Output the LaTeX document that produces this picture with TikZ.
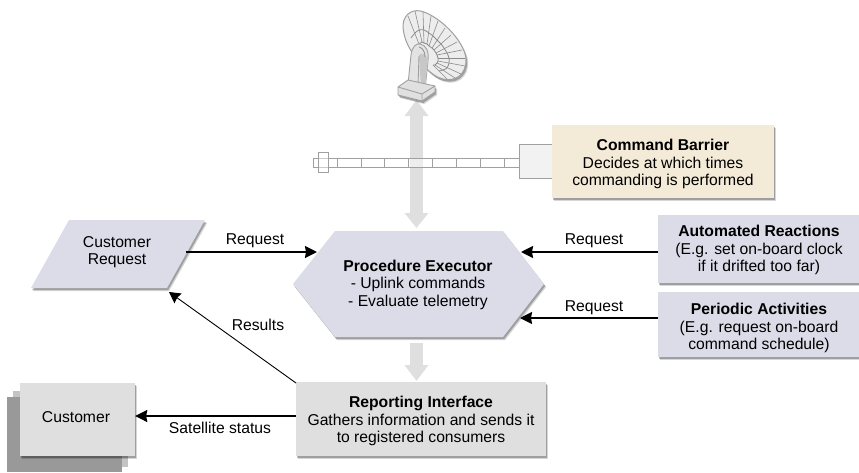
\documentclass[tikz,border=0pt]{standalone}
\usepackage{fontspec}
\setmainfont{Liberation Sans}
\usetikzlibrary{arrows.meta,shadows,calc}
\definecolor{lilac}{HTML}{DBDCE8}
\definecolor{cream}{HTML}{F3EAD8}
\definecolor{pale}{HTML}{DFDFDF}
\definecolor{stack}{HTML}{999999}
\definecolor{stacklight}{HTML}{C4C4C4}
\definecolor{flow}{HTML}{DFDFDF}
\definecolor{wire}{HTML}{A0A0A0}
\definecolor{rib}{HTML}{8C8C8C}
\tikzset{
  x=1pt,y=-1pt,
  softshadow/.style={
    drop shadow={shadow xshift=2.2pt,shadow yshift=-3pt,opacity=.16,fill=black},
    drop shadow={shadow xshift=1.2pt,shadow yshift=-2pt,opacity=.26,fill=black}},
  panel/.style={fill=#1,softshadow,inner sep=0pt},
  txt/.style={inner sep=0pt,align=center,font=\fontsize{15.7}{17.5}\selectfont},
  link/.style={-{Stealth[length=12pt,width=12pt,inset=1pt]},line width=1.8pt,black},
  thinlink/.style={-{Stealth[length=11pt,width=12pt,inset=1pt]},line width=.9pt,black},
  flowarrow/.style={line width=13pt,flow},
  flowhead/.style={-{Triangle[length=16pt,width=23pt]}},
  flowboth/.style={{Triangle[length=15pt,width=23pt]}-{Triangle[length=16pt,width=23pt]}},
  hw/.style={draw=wire,line width=.9pt},
  ribline/.style={draw=rib,line width=.6pt},
}
\begin{document}
\begin{tikzpicture}
\useasboundingbox (0,0) rectangle (859,472);

% Attachment points on the central column
\coordinate (dishFoot) at (416.5,100);
\coordinate (execN) at (416.5,228);
\coordinate (execS) at (416.5,343);
\coordinate (reportN) at (416.5,381);

% Wide grey flow arrows through the centre
\draw[flowarrow,flowboth] (execN) -- (dishFoot);
\draw[flowarrow,flowhead] (execS) -- (reportN);

% Ground station dish: bowl, ribs, rings
\path[fill=black!7,softshadow] (403,25) .. controls (404,13) and (414,8) .. (424,12)
   .. controls (445,20) and (466,45) .. (466,60)
   .. controls (466,75) and (455,82) .. (443,79)
   .. controls (430,76) and (421,62) .. (412,52)
   .. controls (407,45) and (403,35) .. (403,25) -- cycle;
\foreach \ix/\iy/\ox/\oy in {419/44/408/16,422/42/415/11,424/43/423/12,427/44/431/16,
    429/46/438/21,432/48/445/28,434/50/451/35,436/53/457/42,437/55/462/50,
    438/58/465/58,438/61/465/66,437/63/461/74,435/65/455/78,433/65/448/80}
  \draw[ribline] (\ix,\iy) -- (\ox,\oy);
\draw[ribline,line width=.8pt] plot[smooth] coordinates {(411,38) (415,33) (419,30) (424,30) (429,33)
    (433,36) (437,40) (441,44) (444,48) (447,53) (449,58) (449,63) (447,68) (443,70) (439,71)};
\draw[ribline,line width=.8pt] plot[smooth] coordinates {(415,47) (419,44) (422,42) (424,43) (427,44)
    (429,46) (432,48) (434,50) (436,53) (437,55) (438,58) (438,61) (437,63) (435,65) (433,65)};
\draw[draw=wire,line width=1pt] (403,25) .. controls (404,13) and (414,8) .. (424,12)
   .. controls (445,20) and (466,45) .. (466,60)
   .. controls (466,75) and (455,82) .. (443,79)
   .. controls (430,76) and (421,62) .. (412,52)
   .. controls (407,45) and (403,35) .. (403,25) -- cycle;

% Dish pedestal and its square base
\fill[black!11,draw=wire,line width=.9pt] (408,84) -- (411,55)
   .. controls (412,47) and (416,43) .. (420,44)
   .. controls (426,45) and (429,51) .. (428,60) -- (425,90) -- cycle;
\fill[black!22] (419,55) .. controls (422,52) and (426,54) .. (428,60) -- (425,89) -- (421,88) -- cycle;
\draw[draw=rib,line width=.8pt] (419,47) .. controls (423,48) and (425,52) .. (425,57);
\draw[hw] (419,56) -- (418,86);
\path[fill=black!12,draw=wire,line width=.9pt,softshadow] (398,87) -- (408,80) -- (435,86) -- (435,92)
   -- (422,101) -- (398,95) -- cycle;
\draw[hw] (398,87) -- (422,94) -- (435,86) (422,94) -- (422,101);

% Threaded rod leading to the barrier
\draw[hw,fill=white,fill opacity=.45] (313,158) rectangle (337,167);
\draw[hw,fill=white,fill opacity=.45] (318,152) rectangle (328,172);
\foreach \a/\b in {337/361,361/384,384/408,408/432,432/456,456/480,480/504,504/519}
  \draw[hw,fill=white,fill opacity=.45] (\a,158) rectangle (\b,167);
\draw[hw,fill=black!5] (553,144) -- (519,144) -- (519,178) -- (553,178);

% Process boxes
\node[panel=cream,minimum width=222pt,minimum height=73pt] (barrier) at (663,161.5) {};
\node[txt] (barrierText) at (663,164)
  {\textbf{Command Barrier}\\Decides at which times\\commanding is performed};
\node[panel=lilac,minimum width=201pt,minimum height=68pt] (auto) at (758.5,249) {};
\node[txt] (autoText) at (759,250)
  {\textbf{Automated Reactions}\\(E.g. set on-board clock\\if it drifted too far)};
\node[panel=lilac,minimum width=201pt,minimum height=65pt] (periodic) at (758.5,324.5) {};
\node[txt] (periodicText) at (759,328)
  {\textbf{Periodic Activities}\\(E.g. request on-board\\command schedule)};
\node[panel=pale,minimum width=250pt,minimum height=74pt] (report) at (421,419) {};
\node[txt] (reportText) at (421,421)
  {\textbf{Reporting Interface}\\Gathers information and sends it\\to registered consumers};

% Customer: a stack of three sheets
\fill[stacklight] (13,391) rectangle (128,467);
\fill[stack] (7,397) rectangle (122,472);
\node[panel=pale,minimum width=115pt,minimum height=73pt] (customer) at (77.5,419.5) {};
\node[txt] (customerText) at (76,417) {Customer};

% Customer request parallelogram
\path[fill=lilac,softshadow] (69,220) -- (205,220) -- (167,288) -- (31,288) -- cycle;
\node[txt] (creq) at (117,252) {Customer\\Request};
\coordinate (creqE) at (186,252);
\coordinate (creqS) at (169,292);

% Procedure executor hexagon
\path[fill=lilac,softshadow] (335,231) -- (503,231) -- (544,284) -- (503,337)
   -- (335,337) -- (293,284) -- cycle;
\node[txt] (exec) at (418,284.5)
  {\textbf{Procedure Executor}\\- Uplink commands\\- Evaluate telemetry};
\coordinate (execW) at (317,252);
\coordinate (execE1) at (521,252);
\coordinate (execE2) at (520,318);

% Connectors
\draw[link] (creqE) -- (execW);
\node[txt] (reqLeft) at (255,241) {Request};
\draw[link] (auto.west |- execE1) -- (execE1);
\node[txt] (reqAuto) at (594,241) {Request};
\draw[link] (periodic.west |- execE2) -- (execE2);
\node[txt] (reqPeriodic) at (594,308) {Request};
\coordinate (reportNW) at (296,383);
\draw[thinlink] (reportNW) -- (creqS);
\node[txt] (results) at (258,325) {Results};
\coordinate (reportW) at (296,416);
\draw[link] (reportW) -- (customer.east |- reportW);
\node[txt] (status) at (220,428) {Satellite status};
\end{tikzpicture}
\end{document}
